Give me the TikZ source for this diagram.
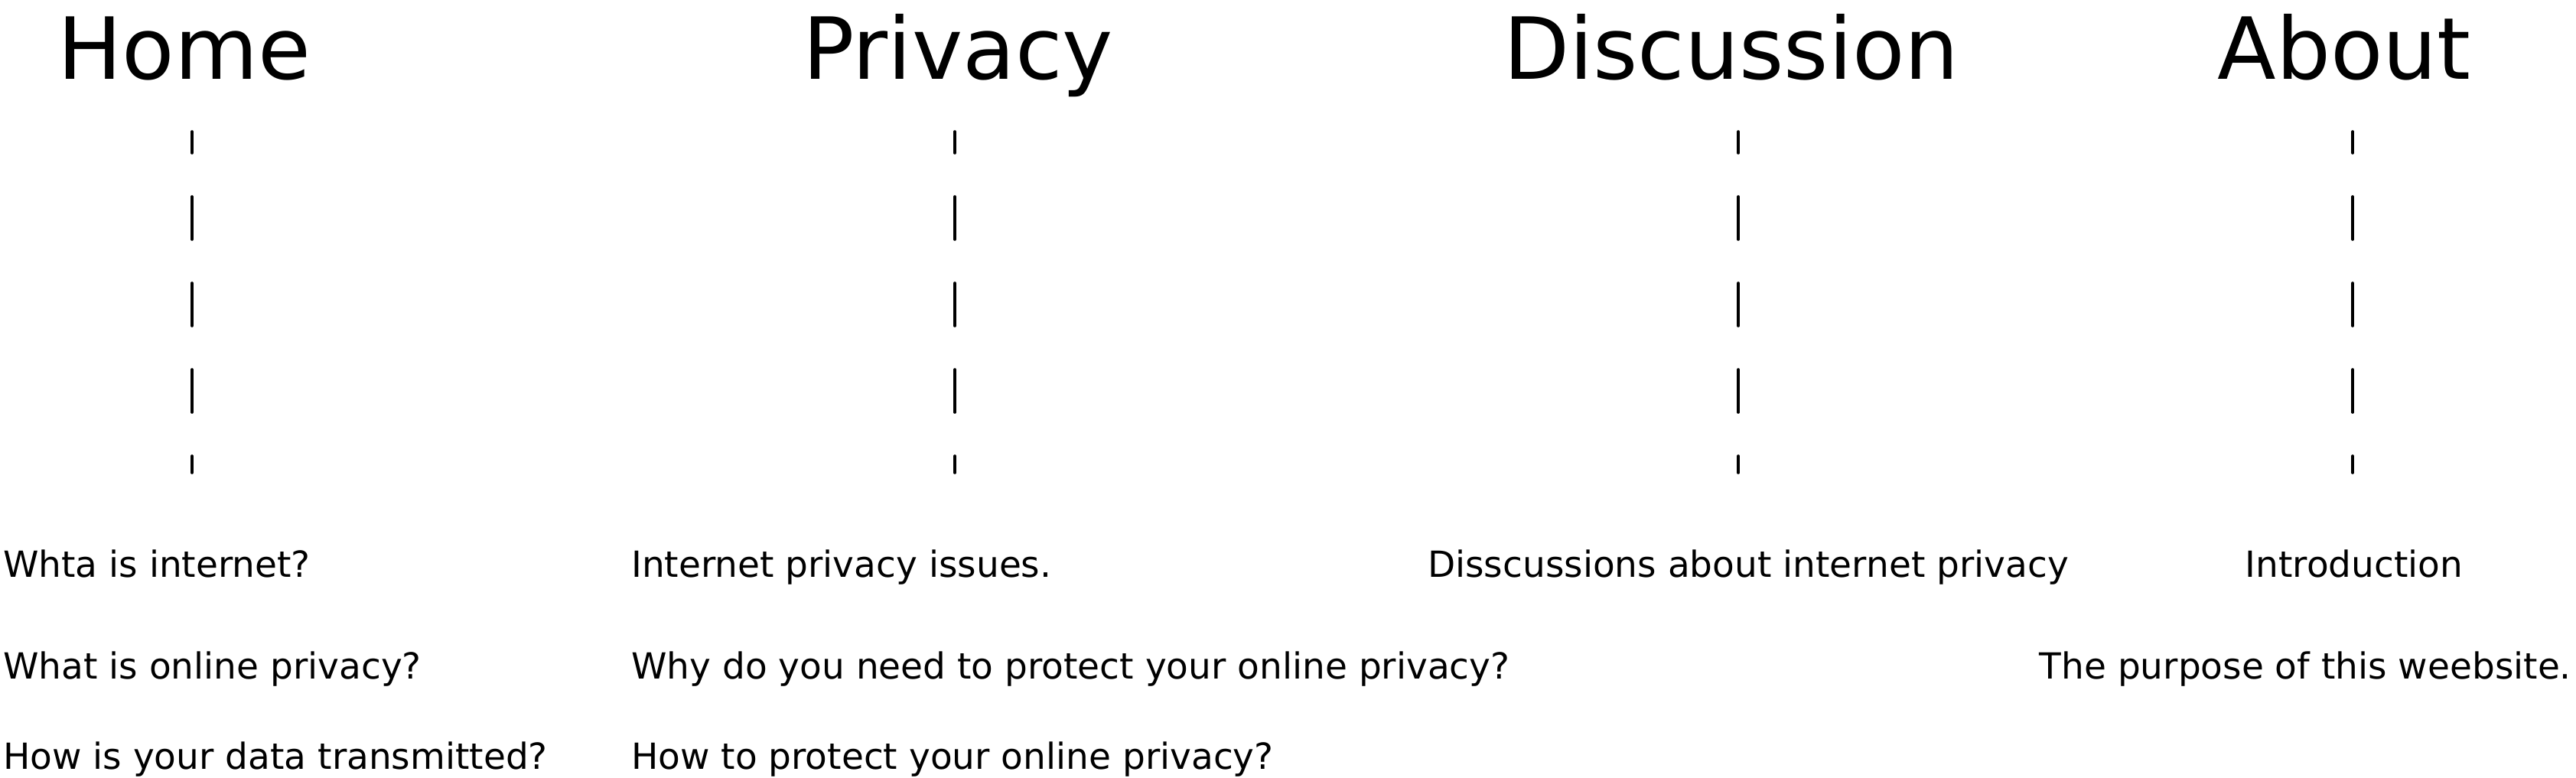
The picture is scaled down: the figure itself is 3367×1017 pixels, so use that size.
\documentclass[tikz,border=0pt]{standalone}
\usepackage{fontspec}
\setmainfont{DejaVu Sans}
\begin{document}
\begin{tikzpicture}[x=1pt,y=-1pt,
  heading/.style={anchor=base,inner sep=0pt,font=\fontsize{112}{112}\selectfont},
  item/.style={inner sep=0pt,font=\fontsize{47}{47}\selectfont},
  guide/.style={line width=3.6pt,line cap=round,dash pattern=on 56pt off 57pt,dash phase=28pt}]
\useasboundingbox (0,0) rectangle (3367,1017);
% headings
\node[heading] (home) at (241,103) {Home};
\node[heading] (privacy) at (1252,103) {Privacy};
\node[heading] (discussion) at (2263,103) {Discussion};
\node[heading] (about) at (3064,103) {About};
% guide line end points
\coordinate (h1) at (251,172);  \coordinate (h2) at (251,618);
\coordinate (p1) at (1248,172); \coordinate (p2) at (1248,618);
\coordinate (d1) at (2272,172); \coordinate (d2) at (2272,618);
\coordinate (a1) at (3075,172); \coordinate (a2) at (3075,618);
\draw[guide] (h1) -- (h2);
\draw[guide] (p1) -- (p2);
\draw[guide] (d1) -- (d2);
\draw[guide] (a1) -- (a2);
% items
\node[item,anchor=base west] (home1) at (4,754) {Whta is internet?};
\node[item,anchor=base west] (home2) at (4,887) {What is online privacy?};
\node[item,anchor=base west] (home3) at (4,1005) {How is your data transmitted?};
\node[item,anchor=base west] (priv1) at (825,754) {Internet privacy issues.};
\node[item,anchor=base west] (priv2) at (825,887) {Why do you need to protect your online privacy?};
\node[item,anchor=base west] (priv3) at (825,1005) {How to protect your online privacy?};
\node[item,anchor=base west] (disc1) at (1866,754) {Disscussions about internet privacy};
\node[item,anchor=base] (about1) at (3077,754) {Introduction};
\node[item,anchor=base east] (about2) at (3361,887) {The purpose of this weebsite.};
\end{tikzpicture}
\end{document}
